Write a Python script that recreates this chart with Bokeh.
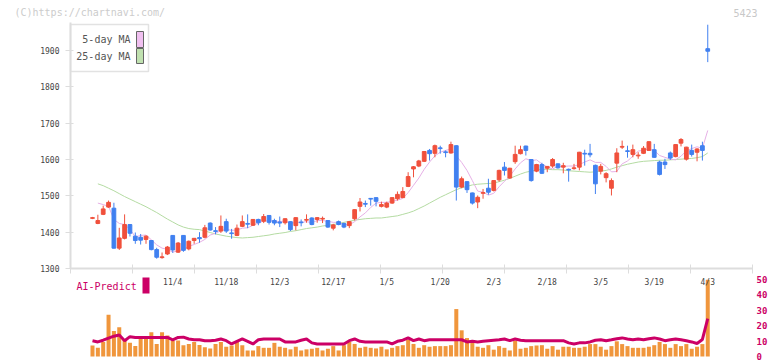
from bokeh.plotting import figure
from bokeh.models import Range1d, LinearAxis, FixedTicker, ColumnDataSource, CustomJSTickFormatter
from bokeh.embed import file_html
from bokeh.resources import INLINE
from bokeh.core.properties import value

nan = float("nan")

# ---------------- data ----------------
opens = [1438, 1424, 1449, 1469, 1466, 1356, 1383, 1421, 1389, 1386,
         1380, 1377, 1352, 1330, 1340, 1391, 1345, 1391, 1354, 1377,
         1385, 1386, 1425, 1404, 1403, 1429, 1398, 1391, 1416, 1424,
         1419, 1435, 1430, 1446, 1432, 1428, 1426, 1429, 1418, 1428,
         1433, 1439, 1435, 1436, 1432, 1411, 1429, 1424, 1418, 1437,
         1471, 1479, 1493, 1495, 1471, 1469, 1480, 1492, 1495, 1526,
         1574, 1582, 1595, 1625, 1617, 1632, 1621, 1618, 1638, 1524,
         1539, 1508, 1483, 1507, 1521, 1515, 1544, 1579, 1549, 1594,
         1616, 1637, 1600, 1568, 1586, 1576, 1582, 1588, 1579, 1573,
         1575, 1579, 1617, 1617, 1584, 1568, 1550, 1521, 1590, 1634,
         1624, 1614, 1610, 1617, 1625, 1627, 1593, 1593, 1618, 1608,
         1645, 1601, 1625, 1620, 1638, 1905]
highs = [1442, 1448, 1473, 1487, 1481, 1412, 1449, 1422, 1399, 1395,
         1391, 1378, 1357, 1344, 1362, 1392, 1373, 1392, 1377, 1384,
         1400, 1420, 1427, 1414, 1446, 1437, 1409, 1421, 1446, 1449,
         1436, 1437, 1450, 1447, 1437, 1443, 1438, 1430, 1441, 1435,
         1449, 1441, 1441, 1443, 1433, 1423, 1432, 1426, 1430, 1463,
         1494, 1487, 1494, 1496, 1484, 1484, 1496, 1512, 1524, 1565,
         1582, 1599, 1623, 1629, 1641, 1638, 1625, 1649, 1639, 1553,
         1540, 1509, 1501, 1519, 1547, 1543, 1572, 1593, 1577, 1638,
         1638, 1638, 1601, 1588, 1591, 1582, 1604, 1589, 1591, 1575,
         1588, 1621, 1627, 1643, 1586, 1588, 1565, 1548, 1631, 1652,
         1638, 1641, 1620, 1637, 1650, 1643, 1597, 1602, 1622, 1642,
         1659, 1635, 1641, 1631, 1649, 1971]
lows = [1436, 1422, 1447, 1467, 1355, 1351, 1380, 1388, 1368, 1366,
        1368, 1350, 1327, 1327, 1337, 1343, 1343, 1346, 1350, 1368,
        1371, 1383, 1404, 1394, 1398, 1398, 1382, 1389, 1414, 1411,
        1417, 1419, 1425, 1421, 1419, 1414, 1421, 1403, 1405, 1416,
        1426, 1419, 1426, 1425, 1412, 1405, 1419, 1411, 1411, 1432,
        1457, 1469, 1473, 1471, 1468, 1466, 1478, 1487, 1494, 1524,
        1551, 1579, 1593, 1597, 1606, 1616, 1606, 1616, 1487, 1521,
        1508, 1476, 1466, 1492, 1503, 1512, 1539, 1556, 1547, 1588,
        1614, 1611, 1539, 1565, 1560, 1565, 1577, 1575, 1562, 1539,
        1572, 1570, 1583, 1606, 1505, 1559, 1537, 1501, 1565, 1629,
        1605, 1606, 1602, 1615, 1624, 1605, 1556, 1574, 1599, 1606,
        1636, 1597, 1608, 1595, 1597, 1868]
closes = [1440, 1432, 1464, 1482, 1356, 1384, 1421, 1397, 1377, 1378,
          1389, 1352, 1331, 1332, 1359, 1351, 1370, 1350, 1375, 1383,
          1382, 1412, 1406, 1402, 1416, 1403, 1396, 1411, 1429, 1422,
          1435, 1426, 1443, 1427, 1425, 1425, 1437, 1407, 1440, 1426,
          1435, 1421, 1440, 1438, 1414, 1420, 1421, 1414, 1429, 1462,
          1483, 1477, 1491, 1485, 1476, 1480, 1495, 1504, 1512, 1553,
          1580, 1596, 1622, 1616, 1638, 1630, 1619, 1641, 1524, 1547,
          1517, 1480, 1496, 1509, 1510, 1542, 1570, 1570, 1576, 1614,
          1627, 1625, 1542, 1586, 1562, 1581, 1600, 1577, 1583, 1571,
          1577, 1620, 1615, 1613, 1533, 1581, 1561, 1542, 1618, 1636,
          1622, 1627, 1612, 1631, 1649, 1606, 1559, 1586, 1604, 1641,
          1655, 1634, 1614, 1629, 1625, 1898]
ma5 = [nan, 1480, 1476, 1471, 1435, 1424, 1421, 1408, 1387, 1391,
       1392, 1379, 1365, 1356, 1353, 1345, 1349, 1352, 1361, 1366,
       1372, 1380, 1392, 1397, 1404, 1408, 1405, 1406, 1411, 1412,
       1419, 1425, 1431, 1431, 1431, 1429, 1431, 1424, 1427, 1427,
       1429, 1426, 1432, 1432, 1430, 1427, 1427, 1421, 1420, 1429,
       1442, 1453, 1468, 1480, 1482, 1482, 1485, 1488, 1493, 1509,
       1529, 1549, 1573, 1593, 1610, 1620, 1625, 1629, 1610, 1592,
       1570, 1542, 1513, 1510, 1502, 1507, 1525, 1540, 1554, 1574,
       1591, 1602, 1597, 1599, 1588, 1579, 1574, 1581, 1581, 1582,
       1582, 1586, 1593, 1599, 1592, 1592, 1581, 1566, 1567, 1588,
       1596, 1609, 1623, 1626, 1628, 1625, 1611, 1606, 1601, 1599,
       1609, 1624, 1630, 1635, 1631, 1680]
ma25 = [nan, 1533, 1528, 1521, 1514, 1506, 1498, 1491, 1484, 1477,
        1470, 1462, 1454, 1445, 1436, 1428, 1420, 1414, 1410, 1408,
        1407, 1403, 1399, 1395, 1392, 1389, 1387, 1385, 1384, 1385,
        1386, 1388, 1390, 1392, 1395, 1397, 1399, 1402, 1404, 1407,
        1410, 1412, 1414, 1417, 1419, 1421, 1424, 1427, 1430, 1433,
        1435, 1437, 1438, 1439, 1439, 1441, 1443, 1445, 1449, 1453,
        1458, 1465, 1472, 1480, 1488, 1496, 1503, 1510, 1517, 1522,
        1526, 1530, 1532, 1533, 1534, 1535, 1539, 1543, 1548, 1554,
        1560, 1565, 1568, 1571, 1573, 1573, 1572, 1572, 1571, 1569,
        1568, 1567, 1566, 1565, 1566, 1568, 1570, 1574, 1579, 1583,
        1587, 1590, 1593, 1595, 1596, 1597, 1598, 1598, 1599, 1600,
        1601, 1602, 1603, 1605, 1608, 1618]
volume = [7.1, 5.6, 9.4, 27.0, 16.5, 18.8, 10.8, 8.8, 6.7, 11.9,
          11.9, 15.6, 8.1, 15.6, 13.5, 10.2, 10.4, 7.3, 8.1, 9.4,
          7.5, 6.0, 5.2, 8.1, 9.4, 6.3, 7.1, 9.4, 7.3, 3.9,
          3.9, 6.7, 5.6, 5.6, 8.8, 6.3, 5.6, 4.6, 6.3, 3.9,
          4.6, 5.0, 5.6, 3.9, 5.0, 6.7, 3.9, 7.3, 9.4, 8.1,
          5.6, 6.3, 5.6, 5.2, 6.3, 4.6, 5.6, 6.7, 7.3, 10.8,
          8.1, 5.6, 7.3, 6.3, 6.7, 6.7, 6.7, 7.3, 30.6, 16.9,
          11.9, 8.8, 6.3, 5.6, 7.3, 4.4, 6.7, 5.6, 3.9, 10.2,
          5.0, 5.6, 6.7, 7.1, 7.3, 5.0, 6.7, 4.4, 6.3, 6.3,
          5.6, 5.6, 6.3, 8.0, 8.0, 6.3, 4.4, 6.7, 9.8, 8.0,
          6.7, 5.6, 5.6, 5.6, 6.3, 7.3, 9.4, 8.0, 5.6, 8.0,
          6.7, 8.0, 5.0, 6.3, 8.0, 49.5]
predict = [10.2, 9.4, 10.5, 11.9, 13.1, 13.9, 10.2, 12.8, 12.3, 12.3,
           12.3, 12.3, 12.3, 12.3, 12.3, 10.8, 12.3, 12.5, 11.3, 10.8,
           10.8, 10.2, 10.2, 10.5, 11.3, 10.2, 8.1, 9.8, 11.3, 9.8,
           8.1, 10.8, 11.3, 11.3, 11.3, 11.3, 9.4, 9.4, 9.4, 10.5,
           11.3, 8.8, 8.1, 8.1, 8.1, 8.1, 8.1, 8.1, 10.2, 11.3,
           9.8, 9.4, 9.4, 9.4, 9.4, 9.4, 8.1, 9.8, 10.5, 12.0,
           10.2, 11.3, 10.2, 10.8, 10.8, 10.8, 10.8, 10.8, 10.8, 10.8,
           9.4, 9.8, 9.4, 9.8, 10.2, 10.5, 10.8, 11.3, 10.2, 11.3,
           10.5, 10.2, 10.2, 10.2, 10.2, 10.2, 10.2, 10.2, 10.2, 8.8,
           8.1, 8.8, 8.8, 9.4, 10.5, 10.8, 10.2, 10.8, 11.5, 12.0,
           11.3, 10.8, 11.3, 10.8, 11.5, 12.0, 11.3, 10.2, 10.8, 11.3,
           10.8, 10.2, 9.4, 8.4, 11.0, 24.4]
date_index = [15, 25, 35, 45, 55, 65, 75, 85, 95, 105, 115]
date_labels = ["11/4", "11/18", "12/3", "12/17", "1/5", "1/20", "2/3", "2/18", "3/5", "3/19", "4/3"]
price_ticks = [1300, 1400, 1500, 1600, 1700, 1800, 1900]
vol_ticks = [0, 10, 20, 30, 40, 50]
legend_labels = ["5-day MA", "25-day MA"]
header_left = "(C)https://chartnavi.com/"
header_right = "5423"
tag_text = "AI-Predict"

n = len(closes)
assert all(len(a) == n for a in (opens, highs, lows, ma5, ma25, volume, predict))
idx = list(range(n))

# ---------------- layout (page pixels; the page has no margin) ----------------
W, H = 772, 361
FL, FR, FT = 70, 752, 22          # chart box left / right / top
X0, XS = 92, 5.35                 # first candle, candle spacing
YB_PX, YB, YPP = 268, 1300, 600 / 218
V0_PX, V50_PX = 356, 278.5        # volume 0 and 50


def dx(px):
    return (px - X0) / XS


def dy(py):
    return YB + (YB_PX - py) * YPP


def dv(py):
    return (V0_PX - py) * 50 / (V0_PX - V50_PX)


MONO = "DejaVu Sans Mono"
UP, DOWN = "#f0503c", "#4080f0"
PINK, GREEN = "#e6b0e6", "#b4dba2"
MAG = "#cc0066"
AXC = "#dddddd"

p = figure(width=W, height=H, title=None,
           x_range=Range1d(dx(0), dx(W)), y_range=Range1d(dy(H), dy(0)),
           x_axis_type=None, y_axis_type=None,
           output_backend="svg", toolbar_location=None,
           min_border_left=0, min_border_right=0, min_border_top=0, min_border_bottom=0)
p.extra_y_ranges = {"vol": Range1d(dv(H), dv(0))}
p.outline_line_color = None
p.background_fill_color = "white"
p.border_fill_color = "white"

# ---------------- axes (fixed in the plot area) ----------------
yax = LinearAxis(ticker=FixedTicker(ticks=price_ticks), fixed_location=dx(FL),
                 bounds=(YB, dy(FT)),
                 axis_line_color=AXC, axis_line_width=2,
                 major_tick_line_color=AXC, major_tick_in=3, major_tick_out=5,
                 minor_tick_line_color=None, major_label_standoff=6,
                 major_label_text_font=MONO, major_label_text_font_size="8px",
                 major_label_text_color="#444444")
p.add_layout(yax, "left")

vax = LinearAxis(y_range_name="vol", ticker=FixedTicker(ticks=vol_ticks), fixed_location=dx(FR),
                 axis_line_color=None, major_tick_line_color=None, minor_tick_line_color=None,
                 major_tick_in=0, major_tick_out=0, major_label_standoff=4,
                 major_label_text_font=MONO, major_label_text_font_size="9px",
                 major_label_text_font_style="bold", major_label_text_color=MAG)
p.add_layout(vax, "right")

x_lo, x_hi = dx(FL), dx(FR)
grid_ticks = [x_lo + k * (x_hi - x_lo) / 11 for k in range(12)]
xax = LinearAxis(ticker=FixedTicker(ticks=grid_ticks), fixed_location=YB,
                 bounds=(x_lo, x_hi),
                 formatter=CustomJSTickFormatter(code="return ''"),
                 axis_line_color=AXC, axis_line_width=2,
                 major_tick_line_color=AXC, major_tick_in=4, major_tick_out=5,
                 minor_tick_line_color=None, major_label_text_font_size="1px")
p.add_layout(xax, "below")

dax = LinearAxis(ticker=FixedTicker(ticks=date_index), fixed_location=YB,
                 major_label_overrides={i: s for i, s in zip(date_index, date_labels)},
                 axis_line_color=None, major_tick_line_color=None, minor_tick_line_color=None,
                 major_tick_in=0, major_tick_out=0, major_label_standoff=9,
                 major_label_text_font=MONO, major_label_text_font_size="8px",
                 major_label_text_color="#444444")
p.add_layout(dax, "below")

# ---------------- volume panel ----------------
vsrc = ColumnDataSource(dict(x=idx, v=volume, pr=predict))
p.vbar(x="x", top="v", bottom=0, width=0.75, source=vsrc, y_range_name="vol",
       fill_color="#f0963c", line_color=None)
p.line(x="x", y="pr", source=vsrc, y_range_name="vol", line_color=MAG, line_width=3)

# ---------------- moving averages ----------------
msrc = ColumnDataSource(dict(x=idx, m5=ma5, m25=ma25))
p.line(x="x", y="m25", source=msrc, line_color=GREEN, line_width=1)
p.line(x="x", y="m5", source=msrc, line_color=PINK, line_width=1)

# ---------------- candles ----------------
colors = [UP if c >= o else DOWN for o, c in zip(opens, closes)]
csrc = ColumnDataSource(dict(x=idx, h=highs, l=lows,
                             top=[max(o, c) for o, c in zip(opens, closes)],
                             bot=[min(o, c) for o, c in zip(opens, closes)],
                             col=colors))
p.segment(x0="x", y0="l", x1="x", y1="h", source=csrc, line_color="col", line_width=1)
p.vbar(x="x", top="top", bottom="bot", width=0.7, source=csrc,
       fill_color="col", line_color="col", line_width=1)

# ---------------- legend (labels left, swatches right) ----------------
p.quad(left=[dx(70)], right=[dx(148)], top=[dy(24)], bottom=[dy(71)],
       fill_color="white", line_color="#e2e2e2", line_width=1.5)
p.quad(left=[dx(136), dx(136)], right=[dx(143), dx(143)],
       top=[dy(31), dy(48)], bottom=[dy(47), dy(63)],
       fill_color=["#f0c0f0", "#c0e1b0"], line_color="#666666", line_width=1)
p.text(x=[dx(130), dx(130)], y=[dy(39), dy(56)], text=legend_labels,
       text_font=value(MONO), text_font_size="10px", text_color="#555555",
       text_align="right", text_baseline="middle")

# ---------------- AI-Predict tag ----------------
p.text(x=[dx(76)], y=[dy(286)], text=[tag_text], text_font=value(MONO),
       text_font_size="10px", text_color=MAG, text_align="left", text_baseline="middle")
p.quad(left=[dx(142)], right=[dx(149)], top=[dy(277)], bottom=[dy(293)],
       fill_color=MAG, line_color=None)

# ---------------- header texts ----------------
p.text(x=[dx(14)], y=[dy(12)], text=[header_left], text_font=value(MONO),
       text_font_size="10px", text_color="#cccccc", text_align="left", text_baseline="middle")
p.text(x=[dx(757)], y=[dy(12)], text=[header_right], text_font=value(MONO),
       text_font_size="10px", text_color="#c8c8c8", text_align="right", text_baseline="middle")

open("out.html", "w").write(file_html(p, INLINE))
